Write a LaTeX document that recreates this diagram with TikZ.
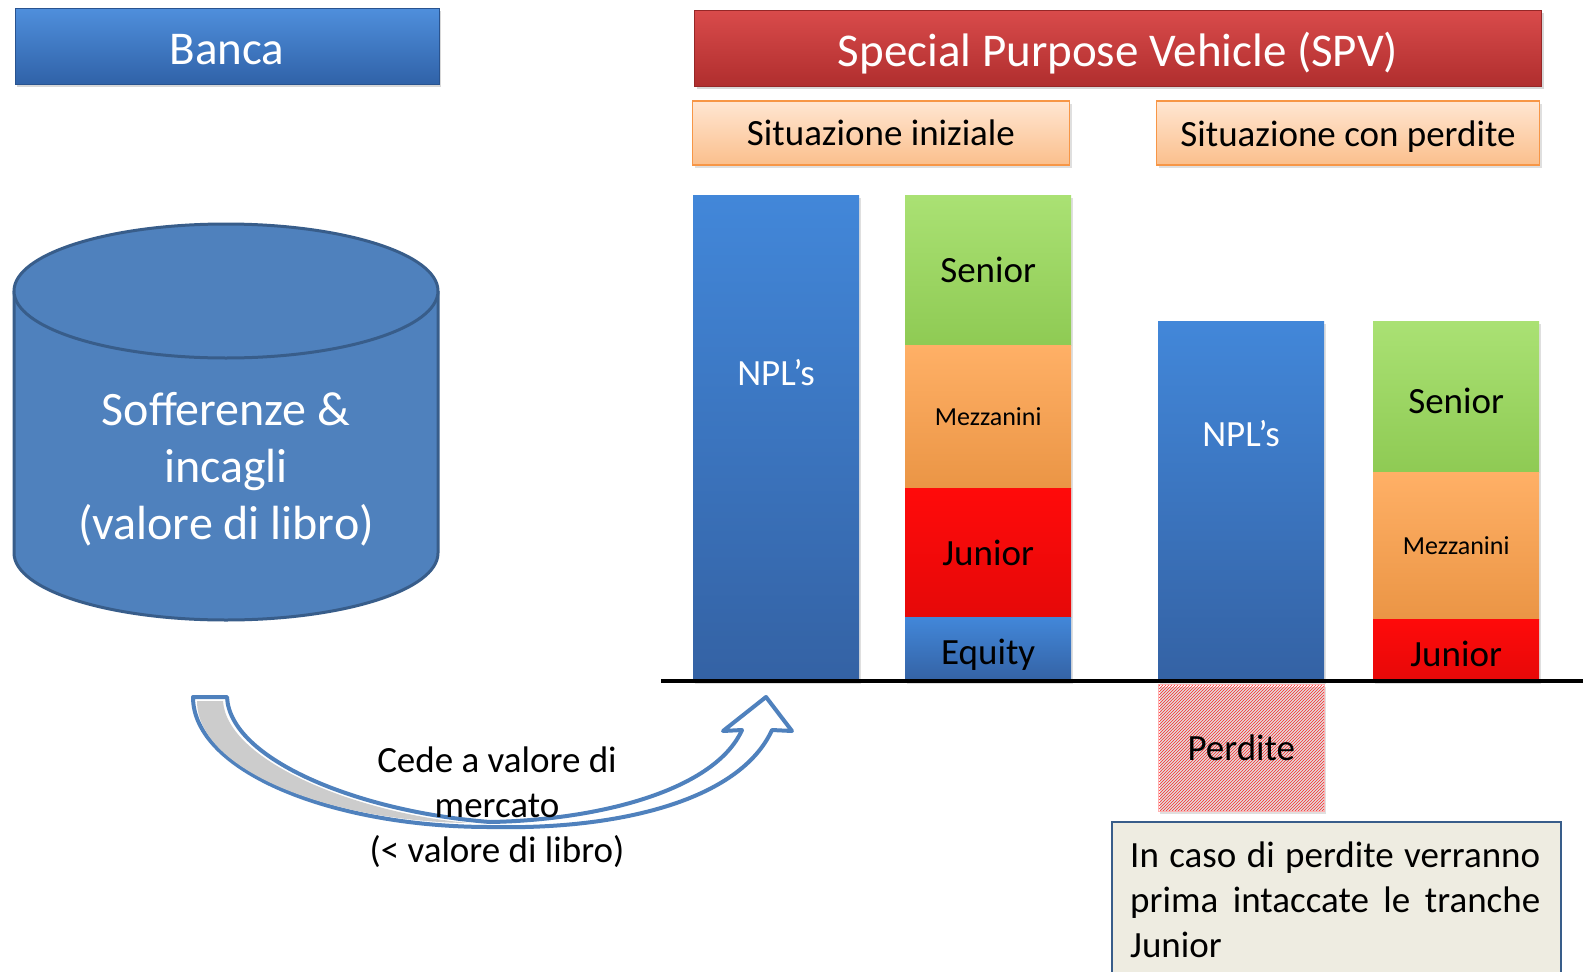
\documentclass[tikz,border=0pt]{standalone}
\usepackage{fontspec}
\setmainfont{Carlito}
\usetikzlibrary{patterns,shadows}

\definecolor{bancatop}{HTML}{4F8FDC}
\definecolor{bancabot}{HTML}{3062A8}
\definecolor{spvtop}{HTML}{D94B4B}
\definecolor{spvbot}{HTML}{B02E2E}
\definecolor{peachtop}{HTML}{FFE6D2}
\definecolor{peachbot}{HTML}{FBBF8C}
\definecolor{peachline}{HTML}{F79646}
\definecolor{npltop}{HTML}{4287D9}
\definecolor{nplbot}{HTML}{3462A4}
\definecolor{seniorcol}{HTML}{9BDC5B}
\definecolor{mezzcol}{HTML}{FFA24B}
\definecolor{juniorcol}{HTML}{FF0A0A}
\definecolor{cylfill}{HTML}{4F81BD}
\definecolor{cylline}{HTML}{385D8A}
\definecolor{notebg}{HTML}{EEECE1}
\definecolor{arrowgray}{HTML}{CCCCCC}

\newcommand{\bigtxt}{\fontsize{47}{57}\selectfont}
\newcommand{\cyltxt}{\fontsize{48}{57}\selectfont}
\newcommand{\midtxt}{\fontsize{37}{45}\selectfont}
\newcommand{\smalltxt}{\fontsize{26}{31}\selectfont}

\tikzset{
  hdr/.style={minimum height=76pt, inner sep=0pt, text=white, font=\bigtxt,
    text height=36pt, text depth=0pt,
    drop shadow={opacity=0.3, shadow xshift=2pt, shadow yshift=-3pt}},
  subhdr/.style={draw=peachline, line width=1.5pt, top color=peachtop, bottom color=peachbot,
    minimum height=64pt, inner sep=0pt, font=\midtxt,
    drop shadow={opacity=0.25, shadow xshift=2pt, shadow yshift=-3pt}},
  bar/.style={minimum width=166pt, inner sep=0pt, anchor=north west, font=\midtxt,
    drop shadow={opacity=0.25, shadow xshift=2pt, shadow yshift=-3pt}},
  nplbar/.style={bar, top color=npltop, bottom color=nplbot},
  senior/.style={bar, top color=seniorcol!85!white, bottom color=seniorcol!92!black},
  mezz/.style={bar, top color=mezzcol!85!white, bottom color=mezzcol!92!black, font=\smalltxt},
  junior/.style={bar, top color=juniorcol, bottom color=juniorcol!90!black},
  tlow/.style={text height=#1, text depth=0pt},
}

\begin{document}
\begin{tikzpicture}[x=1pt, y=-1pt]
  \useasboundingbox (0,0) rectangle (1583,972);
  \clip (0,0) rectangle (1583,972);
  \fill[white] (0,0) rectangle (1583,972);

  % Headers
  \node[hdr, minimum width=424pt, top color=bancatop, bottom color=bancabot,
    draw=bancabot!85!black, line width=1pt] (banca) at (227,46) {Banca};
  \node[hdr, minimum width=847pt, top color=spvtop, bottom color=spvbot,
    draw=spvbot!85!black, line width=1pt] (spv) at (1118,48) {Special Purpose Vehicle (SPV)};
  \node[subhdr, minimum width=377pt] (iniz) at (881,133) {Situazione iniziale};
  \node[subhdr, minimum width=383pt, tlow=26pt] (perd) at (1348,133) {Situazione con perdite};

  % Cylinder
  \draw[fill=cylfill, draw=cylline, line width=3pt] (14,291) -- (14,553)
    arc[start angle=180, end angle=360, x radius=212pt, y radius=67pt] -- (438,291);
  \draw[fill=cylfill, draw=cylline, line width=3pt] (226,291) ellipse [x radius=212pt, y radius=67pt];
  \node[text=white, font=\cyltxt, align=center] (sofferenze) at (226,469)
    {Sofferenze \&\\incagli\\(valore di libro)};

  % Initial situation
  \node[nplbar, minimum height=486pt] (npl1) at (693,195) {};
  \node[text=white, font=\midtxt] (npl1txt) at (776,373) {NPL’s};
  \node[senior, minimum height=150pt] (sen1) at (905,195) {Senior};
  \node[mezz, minimum height=143pt] (mez1) at (905,345) {Mezzanini};
  \node[junior, minimum height=129pt] (jun1) at (905,488) {Junior};
  \node[nplbar, minimum height=64pt, tlow=31pt] (eq1) at (905,617) {Equity};

  % Situation with losses
  \node[nplbar, minimum height=360pt] (npl2) at (1158,321) {};
  \node[text=white, font=\midtxt] (npl2txt) at (1241,434) {NPL’s};
  \node[senior, minimum height=151pt, tlow=34pt] (sen2) at (1373,321) {Senior};
  \node[mezz, minimum height=147pt] (mez2) at (1373,472) {Mezzanini};
  \node[junior, minimum height=62pt, tlow=32pt] (jun2) at (1373,619) {Junior};
  \node[bar, minimum height=127pt, pattern=north east lines, pattern color=red!85,
    draw=red!30, line width=0.5pt] (perdite) at (1158,684) {Perdite};

  % Base line
  \coordinate (basel) at (661,681);
  \coordinate (baser) at (1583,681);
  \draw[line width=3.5pt] (basel) -- (baser);

  % Note
  \node[anchor=north west, draw=cylline, line width=1.5pt, fill=notebg, minimum width=449pt,
    minimum height=180pt] (notabox) at (1111,821) {};
  \node[anchor=north west, text width=410pt, align=justify, inner sep=0pt, font=\midtxt]
    (nota) at (1130,842) {In caso di perdite verranno prima intaccate le tranche Junior};

  % Curved arrow
  \draw[fill=white, draw=cylfill, line width=4pt, line join=round]
    (193,697) -- (227,697) .. controls (230,760) and (360,812) .. (490,822)
    .. controls (600,820) and (715,790) .. (742,730) -- (723,731) -- (766,697)
    -- (792,731) -- (772,730) .. controls (740,800) and (620,830) .. (490,827)
    .. controls (330,827) and (193,770) .. cycle;
  \fill[arrowgray] (197,701) -- (223,701) .. controls (227,762) and (360,814) .. (470,823)
    .. controls (330,822) and (197,770) .. cycle;
  \node[font=\midtxt, align=center] (cede) at (497,807)
    {Cede a valore di\\mercato\\(< valore di libro)};
\end{tikzpicture}
\end{document}
